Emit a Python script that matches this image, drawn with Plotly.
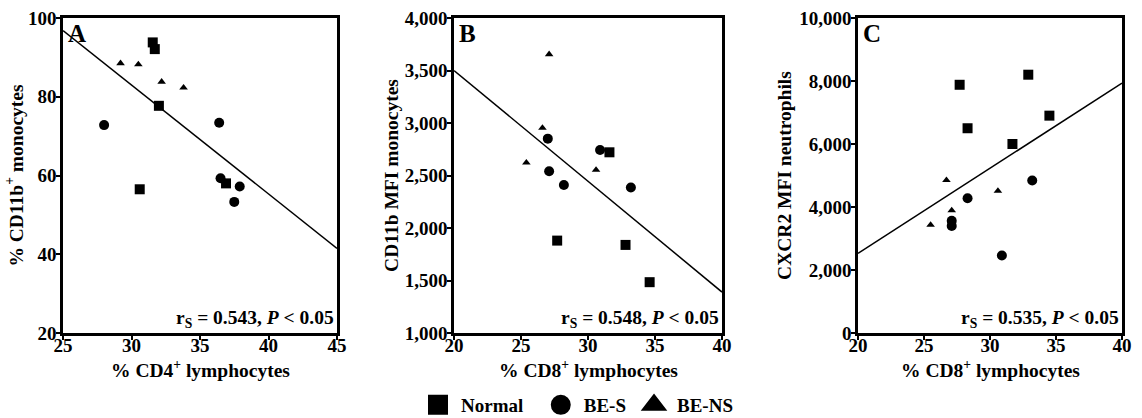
import plotly.graph_objects as go

# ---------------- data ----------------
# Panel A: % CD4+ lymphocytes vs % CD11b+ monocytes
a_normal_x = [31.55, 31.7, 32.0, 30.6, 36.9]
a_normal_y = [93.8, 92.1, 77.7, 56.5, 58.0]
a_bes_x = [28.0, 36.4, 36.5, 37.9, 37.5]
a_bes_y = [72.8, 73.4, 59.3, 57.2, 53.3]
a_bens_x = [29.2, 30.5, 32.2, 33.8]
a_bens_y = [88.5, 88.2, 83.8, 82.3]
a_fit_x = [25, 45]
a_fit_y = [96.8, 41.5]

# Panel B: % CD8+ lymphocytes vs CD11b MFI monocytes
b_normal_x = [31.6, 27.7, 32.8, 34.6]
b_normal_y = [2721, 1880, 1839, 1484]
b_bes_x = [27.0, 27.1, 28.2, 30.9, 33.2]
b_bes_y = [2851, 2540, 2410, 2743, 2385]
b_bens_x = [27.1, 26.6, 25.4, 30.6]
b_bens_y = [3654, 2953, 2622, 2553]
b_fit_x = [20, 40]
b_fit_y = [3500, 1390]

# Panel C: % CD8+ lymphocytes vs CXCR2 MFI neutrophils
c_normal_x = [27.7, 32.9, 28.3, 34.5, 31.7]
c_normal_y = [7880, 8200, 6500, 6900, 6000]
c_bes_x = [33.2, 28.3, 27.1, 27.1, 30.9]
c_bes_y = [4840, 4280, 3560, 3400, 2460]
c_bens_x = [26.7, 30.6, 27.1, 25.5]
c_bens_y = [4850, 4510, 3890, 3430]
c_fit_x = [20, 40]
c_fit_y = [2530, 7930]

panel_letters = ["A", "B", "C"]
stats_text = ["0.543", "0.548", "0.535"]
x_titles = ["% CD4<sup>+</sup> lymphocytes", "% CD8<sup>+</sup> lymphocytes", "% CD8<sup>+</sup> lymphocytes"]
y_titles = ["% CD11b<sup>+</sup> monocytes", "CD11b MFI monocytes", "CXCR2 MFI neutrophils"]
x_ranges = [[25, 45], [20, 40], [20, 40]]
y_ranges = [[20, 100], [1000, 4000], [0, 10000]]
y_dticks = [20, 500, 2000]
group_names = ["Normal", "BE-S", "BE-NS"]
legend_labels = ["Normal\u00a0\u00a0", "BE-S", "BE-NS"]

FONT = "Liberation Serif, Times New Roman, serif"
W, H = 1142, 418

fig = go.Figure()

panels = [
    ((a_normal_x, a_normal_y), (a_bes_x, a_bes_y), (a_bens_x, a_bens_y), (a_fit_x, a_fit_y)),
    ((b_normal_x, b_normal_y), (b_bes_x, b_bes_y), (b_bens_x, b_bens_y), (b_fit_x, b_fit_y)),
    ((c_normal_x, c_normal_y), (c_bes_x, c_bes_y), (c_bens_x, c_bens_y), (c_fit_x, c_fit_y)),
]
symbols = ["square", "circle", "triangle-up"]
sizes = [10, 10, 7.5]

for i, (nrm, bes, bens, fit) in enumerate(panels):
    xa = "x" if i == 0 else f"x{i+1}"
    ya = "y" if i == 0 else f"y{i+1}"
    fig.add_trace(go.Scatter(x=fit[0], y=fit[1], mode="lines",
                             line=dict(color="black", width=1.5),
                             xaxis=xa, yaxis=ya, showlegend=False, hoverinfo="skip"))
    for (gx, gy), sym, sz, nm in zip((nrm, bes, bens), symbols, sizes, group_names):
        fig.add_trace(go.Scatter(x=gx, y=gy, mode="markers", name=nm,
                                 marker=dict(symbol=sym, size=sz, color="black"),
                                 xaxis=xa, yaxis=ya, showlegend=False))

# legend-only entries (bigger symbols)
for sym, nm in zip(symbols, legend_labels):
    fig.add_trace(go.Scatter(x=[None], y=[None], mode="markers", name=nm,
                             marker=dict(symbol=sym, size=16, color="black",
                                         line=dict(color="black", width=4)),
                             xaxis="x", yaxis="y", showlegend=True))

x_domains = [[63 / W, 337 / W], [454 / W, 722 / W], [858 / W, 1122 / W]]
y_domain = [1 - 333 / H, 1 - 18 / H]

TICK_FS = 19
TITLE_FS = 19.5

axis_common = dict(
    showline=True, linecolor="black", linewidth=2.5, mirror=True,
    ticks="outside", ticklen=4, tickwidth=2, tickcolor="black",
    showgrid=False, zeroline=False, automargin=False,
    tickfont=dict(family=FONT, size=TICK_FS, color="black", weight="bold"),
)

layout = dict(
    width=W, height=H,
    margin=dict(l=0, r=0, t=0, b=0, autoexpand=False),
    paper_bgcolor="white", plot_bgcolor="white",
    font=dict(family=FONT, color="black"),
    showlegend=True,
    legend=dict(orientation="h", x=415 / W, xanchor="left", y=1 - 405 / H, yanchor="middle",
                itemwidth=36,
                font=dict(family=FONT, size=19, color="black", weight="bold"),
                bgcolor="rgba(0,0,0,0)"),
)

y_standoffs = [0, 1, 3]
annotations = []
for i in range(3):
    xk = "xaxis" if i == 0 else f"xaxis{i+1}"
    yk = "yaxis" if i == 0 else f"yaxis{i+1}"
    xa = "x" if i == 0 else f"x{i+1}"
    ya = "y" if i == 0 else f"y{i+1}"
    layout[xk] = dict(axis_common, domain=x_domains[i], range=x_ranges[i], dtick=5,
                      anchor=ya, ticklabelstandoff=-11)
    layout[yk] = dict(axis_common, domain=y_domain, range=y_ranges[i], dtick=y_dticks[i],
                      tickformat=",", anchor=xa, ticklabelstandoff=-4,
                      title=dict(text=y_titles[i], standoff=y_standoffs[i],
                                 font=dict(family=FONT, size=TITLE_FS, color="black", weight="bold")))
    # x-axis title
    annotations.append(dict(text="<b>" + x_titles[i] + "</b>", xref=f"{xa} domain", yref="paper",
                            x=0.5, y=1 - 369 / H, xanchor="center", yanchor="middle", showarrow=False,
                            font=dict(family=FONT, size=TITLE_FS, color="black")))
    annotations.append(dict(text="<b>" + panel_letters[i] + "</b>", xref=f"{xa} domain", yref=f"{ya} domain",
                            x=0.012, y=1.0, xanchor="left", yanchor="top", showarrow=False,
                            font=dict(family=FONT, size=25, color="black")))
    annotations.append(dict(text="<b>r<sub>S</sub> = " + stats_text[i] + ", <i>P</i> &lt; 0.05</b>",
                            xref=f"{xa} domain", yref=f"{ya} domain",
                            x=0.995, y=0.0, xanchor="right", yanchor="bottom", showarrow=False,
                            font=dict(family=FONT, size=19.5, color="black")))
layout["annotations"] = annotations

fig.update_layout(**layout)
fig.write_html("out.html", config={"displayModeBar": False},
               post_script="document.body.style.margin='0px';")
